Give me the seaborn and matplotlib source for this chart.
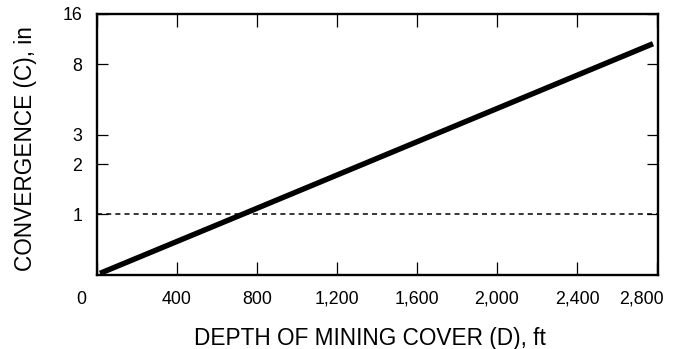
import matplotlib
matplotlib.use("Agg")
import matplotlib.pyplot as plt
import matplotlib.transforms as mtransforms
from matplotlib.ticker import FixedLocator, NullLocator, FixedFormatter
import seaborn as sns
import pandas as pd

# ---- data ----
depth_ft = [15, 730, 2780]          # depth of mining cover D, ft
convergence_in = [0.44, 1.0, 10.6]  # convergence C, in
threshold_in = 1.0

x_ticks = [0, 400, 800, 1200, 1600, 2000, 2400, 2800]
x_tick_labels = ["0", "400", "800", "1,200", "1,600", "2,000", "2,400", "2,800"]
y_ticks = [1, 2, 3, 8, 16]
y_tick_labels = ["1", "2", "3", "8", "16"]

df = pd.DataFrame({"D": depth_ft, "C": convergence_in})

sns.set_style("ticks")
plt.rcParams["font.family"] = ["Liberation Sans", "DejaVu Sans"]

fig = plt.figure(figsize=(6.78, 3.49), dpi=100)
ax = fig.add_axes([97 / 678, 1 - 275 / 349, 561 / 678, 261 / 349])

sns.lineplot(data=df, x="D", y="C", color="black", linewidth=3.9,
             solid_capstyle="butt", ax=ax, legend=False)
ax.axhline(threshold_in, color="black", linewidth=1.1,
           linestyle=(0, (3.3, 2.7)), zorder=1)

ax.set_yscale("log")
ax.set_xlim(0, 2805)
ax.set_ylim(0.43, 16)

ax.xaxis.set_major_locator(FixedLocator(x_ticks))
ax.xaxis.set_major_formatter(FixedFormatter(x_tick_labels))
ax.yaxis.set_major_locator(FixedLocator(y_ticks))
ax.yaxis.set_major_formatter(FixedFormatter(y_tick_labels))
ax.xaxis.set_minor_locator(NullLocator())
ax.yaxis.set_minor_locator(NullLocator())

ax.tick_params(axis="x", which="major", direction="in", length=9.5, width=0.9,
               top=True, bottom=True, pad=11.5, labelsize=12.8, colors="black")
ax.tick_params(axis="y", which="major", direction="in", length=8, width=0.9,
               left=True, right=True, pad=10.5, labelsize=12.8, colors="black")

for s in ax.spines.values():
    s.set_visible(True)
    s.set_linewidth(1.7)
    s.set_color("black")

ax.set_xlabel("DEPTH OF MINING COVER (D), ft", fontsize=16.3, color="black")
ax.set_ylabel("CONVERGENCE (C), in", fontsize=16.3, color="black")
ax.xaxis.set_label_coords((370 - 97) / 561, (275 - 326.5) / 261)
ax.yaxis.set_label_coords((37.5 - 97) / 561, (275 - 148.5) / 261)

# first and last x labels sit slightly left of their positions in the reference
ticks = ax.xaxis.get_major_ticks()
shift = mtransforms.ScaledTranslation(-16 / 100, 0, fig.dpi_scale_trans)
for t in (ticks[0], ticks[-1]):
    t.label1.set_transform(t.label1.get_transform() + shift)

fig.savefig("out.png", dpi=100, facecolor="white")
